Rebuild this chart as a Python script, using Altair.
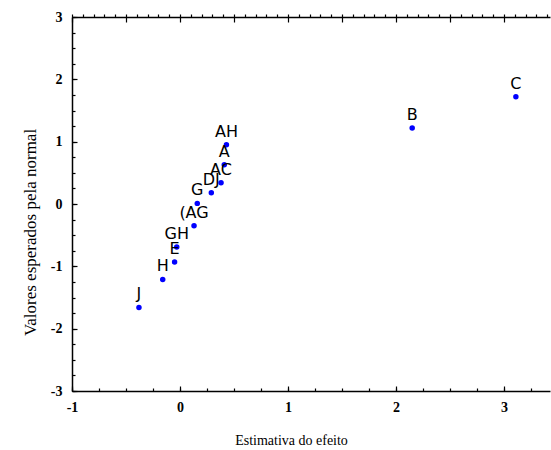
import altair as alt
import pandas as pd

# Effect estimates (x) and expected normal values (y)
effect = [3.11, 2.15, 0.43, 0.41, 0.38, 0.29, 0.16, 0.13, -0.03, -0.05, -0.16, -0.38]
expected = [1.72, 1.22, 0.95, 0.63, 0.34, 0.18, 0.01, -0.35, -0.69, -0.93, -1.21, -1.66]
labels = ["C", "B", "AH", "A", "AC", "DJ", "G", "(AG", "GH", "E", "H", "J"]

x_tick_labels = [-1, 0, 1, 2, 3]
x_minor_ticks = [-1 + 0.25 * i for i in range(18)]
x_top_major = [-1 + 0.5 * i for i in range(9)]
x_top_minor = [round(-1 + 0.1 * i, 1) for i in range(45)]
y_tick_labels = [-3, -2, -1, 0, 1, 2, 3]
y_minor_ticks = [-3 + 0.25 * i for i in range(25)]

df = pd.DataFrame({"x": effect, "y": expected, "label": labels})

SERIF = "'Times New Roman', 'Liberation Serif', 'DejaVu Serif', serif"
LABEL_EXPR = "datum.value < 0 ? '-' + abs(datum.value) : '' + datum.value"
xscale = alt.Scale(domain=[-1, 3.426], nice=False, zero=False)
yscale = alt.Scale(domain=[-3, 3], nice=False, zero=False)


def tick_axis(orient, values, size):
    return alt.Axis(orient=orient, values=values, labels=False, domain=False,
                    grid=False, ticks=True, tickSize=size, tickColor="black",
                    tickWidth=1.2, offset=-size, title=None)


points = alt.Chart(df).mark_circle(size=30, color="#0000ff", opacity=1).encode(
    x=alt.X("x:Q", scale=xscale, axis=alt.Axis(
        orient="bottom", values=x_tick_labels, ticks=False, domain=True,
        domainColor="black", domainWidth=1.5, grid=False, labelFont=SERIF,
        labelFontSize=14, labelFontWeight="bold", labelColor="black",
        labelPadding=9, labelFlush=False,
        labelOverlap=False, labelExpr=LABEL_EXPR, title="Estimativa do efeito",
        titleFont=SERIF, titleFontSize=14, titleFontWeight="normal",
        titleColor="black", titleY=42, titleX=219)),
    y=alt.Y("y:Q", scale=yscale, axis=alt.Axis(
        orient="left", values=y_tick_labels, ticks=False, domain=True,
        domainColor="black", domainWidth=1.5, grid=False, labelFont=SERIF,
        labelFontSize=14, labelFontWeight="bold", labelColor="black",
        labelPadding=10, labelFlush=False,
        labelOverlap=False, labelExpr=LABEL_EXPR,
        title="Valores esperados pela normal",
        titleFont=SERIF, titleFontSize=17, titleFontWeight="normal",
        titleColor="black", titleX=-42, titleY=215, titleBaseline="middle")),
)

text = alt.Chart(df).mark_text(font="DejaVu Sans", fontSize=16, color="black",
                                baseline="middle", align="center", dy=-13).encode(
    x=alt.X("x:Q", scale=xscale, axis=tick_axis("bottom", x_minor_ticks, 3)),
    y=alt.Y("y:Q", scale=yscale, axis=tick_axis("left", y_minor_ticks, 3)),
    text="label:N",
)

major = alt.Chart(df).mark_point(opacity=0).encode(
    x=alt.X("x:Q", scale=xscale, axis=tick_axis("bottom", x_tick_labels, 5)),
    y=alt.Y("y:Q", scale=yscale, axis=tick_axis("left", y_tick_labels, 5)),
)

top_minor = alt.Chart(df).mark_point(opacity=0).encode(
    x=alt.X("x:Q", scale=xscale, axis=alt.Axis(
        orient="top", values=x_top_minor, labels=False, domain=True,
        domainColor="black", domainWidth=1.5, grid=False, ticks=True,
        tickSize=3, tickColor="black", tickWidth=1.2, offset=0, title=None)),
    y=alt.Y("y:Q", scale=yscale, axis=None),
)

top_major = alt.Chart(df).mark_point(opacity=0).encode(
    x=alt.X("x:Q", scale=xscale, axis=tick_axis("top", x_top_major, 5)),
    y=alt.Y("y:Q", scale=yscale, axis=None),
)

chart = alt.layer(points, text, major, top_minor, top_major).resolve_axis(
    x="independent", y="independent"
).properties(
    width=478, height=374,
    autosize=alt.AutoSizeParams(type="none"),
    padding={"left": 72, "top": 17, "right": 1, "bottom": 59},
    background="white",
).configure_view(stroke=None)

chart.save("out.html", embed_options={"renderer": "svg", "actions": False})
